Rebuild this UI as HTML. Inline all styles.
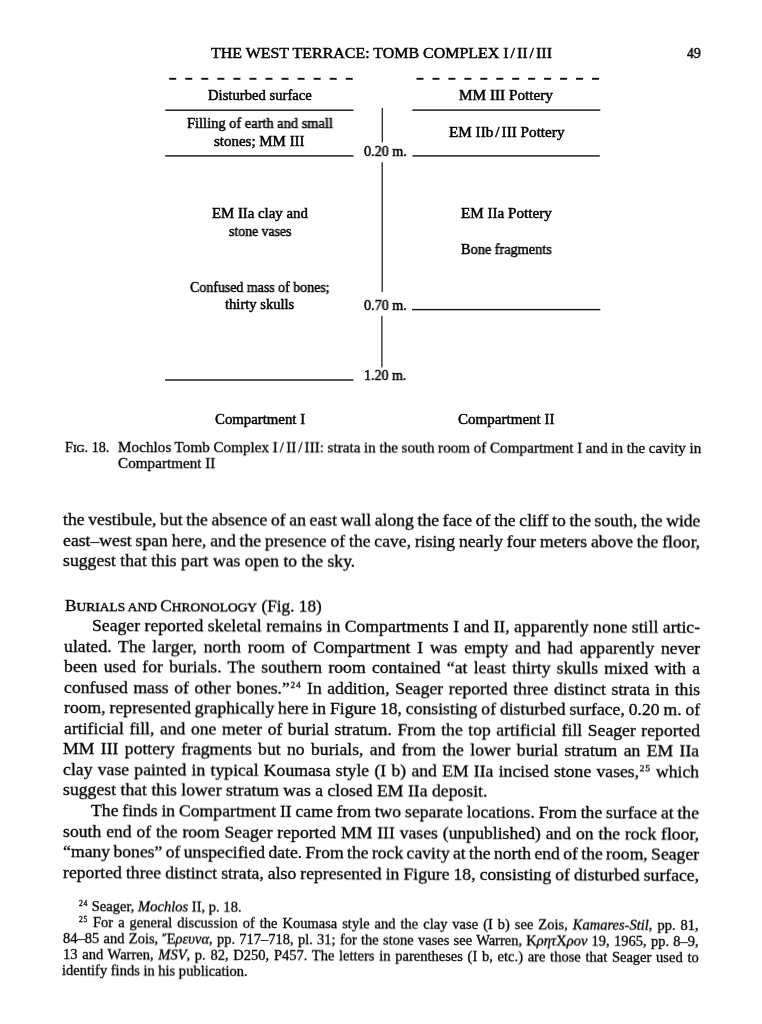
<!DOCTYPE html>
<html lang="en"><head><meta charset="utf-8"><title>The West Terrace: Tomb Complex I/II/III</title>
<style>
html,body{margin:0;padding:0;background:#fff}
body{width:762px;height:1024px;position:relative;overflow:hidden;font-family:'Liberation Serif', 'DejaVu Serif', serif;color:#000}
.l{position:absolute;white-space:pre;-webkit-text-stroke:0.4px #000;will-change:transform;line-height:20px;height:20px;transform-origin:0 0;font-kerning:normal}
.r{position:absolute}
.sc{font-size:0.78em;-webkit-text-stroke-width:0.42px}
.cap{-webkit-text-stroke-width:0.28px}
.bod{-webkit-text-stroke-width:0.3px}
.fn{-webkit-text-stroke-width:0.28px}
.hd{-webkit-text-stroke-width:0.48px}
.fg{-webkit-text-stroke-width:0.48px}
</style></head><body>
<svg class="r" width="762" height="1024" viewBox="0 0 762 1024" style="left:0;top:0">
<rect x="169.20" y="77.85" width="7.00" height="1.9" fill="#111"/>
<rect x="185.25" y="77.85" width="7.00" height="1.9" fill="#111"/>
<rect x="201.30" y="77.85" width="7.00" height="1.9" fill="#111"/>
<rect x="217.35" y="77.85" width="7.00" height="1.9" fill="#111"/>
<rect x="233.40" y="77.85" width="7.00" height="1.9" fill="#111"/>
<rect x="249.45" y="77.85" width="7.00" height="1.9" fill="#111"/>
<rect x="265.50" y="77.85" width="7.00" height="1.9" fill="#111"/>
<rect x="281.55" y="77.85" width="7.00" height="1.9" fill="#111"/>
<rect x="297.60" y="77.85" width="7.00" height="1.9" fill="#111"/>
<rect x="313.65" y="77.85" width="7.00" height="1.9" fill="#111"/>
<rect x="329.70" y="77.85" width="7.00" height="1.9" fill="#111"/>
<rect x="345.75" y="77.85" width="7.00" height="1.9" fill="#111"/>
<rect x="416.50" y="77.85" width="7.00" height="1.9" fill="#111"/>
<rect x="432.45" y="77.85" width="7.00" height="1.9" fill="#111"/>
<rect x="448.40" y="77.85" width="7.00" height="1.9" fill="#111"/>
<rect x="464.35" y="77.85" width="7.00" height="1.9" fill="#111"/>
<rect x="480.30" y="77.85" width="7.00" height="1.9" fill="#111"/>
<rect x="496.25" y="77.85" width="7.00" height="1.9" fill="#111"/>
<rect x="512.20" y="77.85" width="7.00" height="1.9" fill="#111"/>
<rect x="528.15" y="77.85" width="7.00" height="1.9" fill="#111"/>
<rect x="544.10" y="77.85" width="7.00" height="1.9" fill="#111"/>
<rect x="560.05" y="77.85" width="7.00" height="1.9" fill="#111"/>
<rect x="576.00" y="77.85" width="7.00" height="1.9" fill="#111"/>
<rect x="591.95" y="77.85" width="7.00" height="1.9" fill="#111"/>
<rect x="165.20" y="109.50" width="188.30" height="1.4" fill="#111"/>
<rect x="165.20" y="155.20" width="188.30" height="1.4" fill="#111"/>
<rect x="165.10" y="379.30" width="188.30" height="1.4" fill="#111"/>
<rect x="412.30" y="109.40" width="188.00" height="1.4" fill="#111"/>
<rect x="412.40" y="155.20" width="187.40" height="1.4" fill="#111"/>
<rect x="412.00" y="308.90" width="188.30" height="1.4" fill="#111"/>
<rect x="381.70" y="108.10" width="1.2" height="34.20" fill="#111"/>
<rect x="381.60" y="162.20" width="1.2" height="129.90" fill="#111"/>
<rect x="381.30" y="315.80" width="1.2" height="51.60" fill="#111"/>
</svg>
<div class="l hd" style="left:211.00px;top:43px;font-size:15.2px;transform:scaleX(1.0501);">THE WEST TERRACE: TOMB COMPLEX I<span style="padding:0 1.9px">/</span>II<span style="padding:0 1.9px">/</span>III</div>
<div class="l hd" style="left:686.90px;top:43px;font-size:15.2px;transform:scaleX(0.9086);">49</div>
<div class="l fg" style="left:207.80px;top:85px;font-size:14.5px;transform:scaleX(1.0110);">Disturbed surface</div>
<div class="l fg" style="left:186.70px;top:113px;font-size:14.5px;transform:scaleX(0.9959);">Filling of earth and small</div>
<div class="l fg" style="left:213.80px;top:131px;font-size:14.5px;transform:scaleX(1.0317);">stones; MM III</div>
<div class="l fg" style="left:211.90px;top:203px;font-size:14.5px;transform:scaleX(1.0212);">EM IIa clay and</div>
<div class="l fg" style="left:228.60px;top:221px;font-size:14.5px;transform:scaleX(0.9506);">stone vases</div>
<div class="l fg" style="left:190.00px;top:277px;font-size:14.5px;transform:scaleX(0.9602);">Confused mass of bones;</div>
<div class="l fg" style="left:224.80px;top:294px;font-size:14.5px;transform:scaleX(1.0059);">thirty skulls</div>
<div class="l fg" style="left:214.80px;top:409px;font-size:14.5px;transform:scaleX(1.0215);">Compartment I</div>
<div class="l fg" style="left:459.20px;top:85px;font-size:14.5px;transform:scaleX(1.0512);">MM III Pottery</div>
<div class="l fg" style="left:449.00px;top:122px;font-size:14.5px;transform:scaleX(1.0490);">EM IIb<span style="padding:0 1.9px">/</span>III Pottery</div>
<div class="l fg" style="left:460.70px;top:203px;font-size:14.5px;transform:scaleX(1.0439);">EM IIa Pottery</div>
<div class="l fg" style="left:461.40px;top:239px;font-size:14.5px;transform:scaleX(0.9846);">Bone fragments</div>
<div class="l fg" style="left:458.00px;top:409px;font-size:14.5px;transform:scaleX(1.0384);">Compartment II</div>
<div class="l fg" style="left:364.10px;top:141px;font-size:14.5px;transform:scaleX(0.9725);">0.20 m.</div>
<div class="l fg" style="left:364.00px;top:295px;font-size:14.5px;transform:scaleX(0.9725);">0.70 m.</div>
<div class="l fg" style="left:363.80px;top:365px;font-size:14.5px;transform:scaleX(0.9634);">1.20 m.</div>
<div class="l cap" style="left:64.70px;top:437.70px;font-size:14px;transform-origin:0 14px;transform:rotate(0.00180rad) scaleX(1.0134);">F<span class="sc">IG</span>. 18.</div>
<div class="l cap" style="left:117.50px;top:437.70px;font-size:14px;transform-origin:0 14px;transform:rotate(0.00180rad) scaleX(1.086);word-spacing:-0.218px;">Mochlos Tomb Complex I<span style="padding:0 1.9px">/</span>II<span style="padding:0 1.9px">/</span>III: strata in the south room of Compartment I and in the cavity in</div>
<div class="l cap" style="left:117.50px;top:453.50px;font-size:14px;transform-origin:0 14px;transform:rotate(0.00191rad) scaleX(1.0834);">Compartment II</div>
<div class="l bod" style="left:63.30px;top:510.20px;font-size:16.5px;transform-origin:0 15px;transform:rotate(0.00229rad) scaleX(1.07);word-spacing:-0.729px;">the vestibule, but the absence of an east wall along the face of the cliff to the south, the wide</div>
<div class="l bod" style="left:63.30px;top:530.70px;font-size:16.5px;transform-origin:0 15px;transform:rotate(0.00242rad) scaleX(1.07);word-spacing:-0.573px;">east–west span here, and the presence of the cave, rising nearly four meters above the floor,</div>
<div class="l bod" style="left:63.30px;top:550.90px;font-size:16.5px;transform-origin:0 15px;transform:rotate(0.00256rad) scaleX(1.0686);">suggest that this part was open to the sky.</div>
<div class="l bod" style="left:64.50px;top:595.70px;font-size:16.5px;transform-origin:0 15px;transform:rotate(0.00285rad) scaleX(1.0465);">B<span class="sc">URIALS AND </span>C<span class="sc">HRONOLOGY</span> (Fig. 18)</div>
<div class="l bod" style="left:92.10px;top:616.20px;font-size:16.5px;transform-origin:0 15px;transform:rotate(0.00299rad) scaleX(1.07);word-spacing:0.049px;">Seager reported skeletal remains in Compartments I and II, apparently none still artic-</div>
<div class="l bod" style="left:63.90px;top:636.73px;font-size:16.5px;transform-origin:0 15px;transform:rotate(0.00312rad) scaleX(1.07);word-spacing:2.232px;">ulated. The larger, north room of Compartment I was empty and had apparently never</div>
<div class="l bod" style="left:63.80px;top:657.26px;font-size:16.5px;transform-origin:0 15px;transform:rotate(0.00326rad) scaleX(1.07);word-spacing:1.738px;">been used for burials. The southern room contained “at least thirty skulls mixed with a</div>
<div class="l bod" style="left:63.71px;top:677.79px;font-size:16.5px;transform-origin:0 15px;transform:rotate(0.00339rad) scaleX(1.07);word-spacing:1.087px;">confused mass of other bones.”<span style="font-size:0.54em;position:relative;top:-0.64em;letter-spacing:0.7px;margin-left:0.5px">24</span> In addition, Seager reported three distinct strata in this</div>
<div class="l bod" style="left:63.61px;top:698.32px;font-size:16.5px;transform-origin:0 15px;transform:rotate(0.00353rad) scaleX(1.07);word-spacing:-0.514px;">room, represented graphically here in Figure 18, consisting of disturbed surface, 0.20 m. of</div>
<div class="l bod" style="left:63.52px;top:718.85px;font-size:16.5px;transform-origin:0 15px;transform:rotate(0.00366rad) scaleX(1.07);word-spacing:1.031px;">artificial fill, and one meter of burial stratum. From the top artificial fill Seager reported</div>
<div class="l bod" style="left:63.42px;top:739.38px;font-size:16.5px;transform-origin:0 15px;transform:rotate(0.00380rad) scaleX(1.07);word-spacing:1.813px;">MM III pottery fragments but no burials, and from the lower burial stratum an EM IIa</div>
<div class="l bod" style="left:63.33px;top:759.91px;font-size:16.5px;transform-origin:0 15px;transform:rotate(0.00393rad) scaleX(1.07);word-spacing:0.787px;">clay vase painted in typical Koumasa style (I b) and EM IIa incised stone vases,<span style="font-size:0.54em;position:relative;top:-0.64em;letter-spacing:0.7px;margin-left:0.5px">25</span> which</div>
<div class="l bod" style="left:63.24px;top:780.44px;font-size:16.5px;transform-origin:0 15px;transform:rotate(0.00407rad) scaleX(1.0706);">suggest that this lower stratum was a closed EM IIa deposit.</div>
<div class="l bod" style="left:91.25px;top:800.97px;font-size:16.5px;transform-origin:0 15px;transform:rotate(0.00421rad) scaleX(1.07);word-spacing:-0.555px;">The finds in Compartment II came from two separate locations. From the surface at the</div>
<div class="l bod" style="left:63.05px;top:821.50px;font-size:16.5px;transform-origin:0 15px;transform:rotate(0.00434rad) scaleX(1.07);word-spacing:0.388px;">south end of the room Seager reported MM III vases (unpublished) and on the rock floor,</div>
<div class="l bod" style="left:62.95px;top:842.03px;font-size:16.5px;transform-origin:0 15px;transform:rotate(0.00448rad) scaleX(1.07);word-spacing:-1.050px;">“many bones” of unspecified date. From the rock cavity at the north end of the room, Seager</div>
<div class="l bod" style="left:62.86px;top:862.56px;font-size:16.5px;transform-origin:0 15px;transform:rotate(0.00461rad) scaleX(1.07);word-spacing:-0.373px;">reported three distinct strata, also represented in Figure 18, consisting of disturbed surface,</div>
<div class="l fn" style="left:78.90px;top:897.30px;font-size:13.7px;transform-origin:0 14px;transform:rotate(0.00483rad) scaleX(1.0638);"><span style="font-size:0.53em;position:relative;top:-0.68em;letter-spacing:0.6px">24</span> Seager, <i>Mochlos</i> II, p. 18.</div>
<div class="l fn" style="left:78.90px;top:912.90px;font-size:13.7px;transform-origin:0 14px;transform:rotate(0.00494rad) scaleX(1.06);word-spacing:1.276px;"><span style="font-size:0.53em;position:relative;top:-0.68em;letter-spacing:0.6px">25</span> For a general discussion of the Koumasa style and the clay vase (I b) see Zois, <i>Kamares-Stil</i>, pp. 81,</div>
<div class="l fn" style="left:62.60px;top:928.80px;font-size:13.7px;transform-origin:0 14px;transform:rotate(0.00504rad) scaleX(1.06);word-spacing:0.592px;">84–85 and Zois, Ἔ<i>ρευνα</i>, pp. 717–718, pl. 31; for the stone vases see Warren, Κ<i>ρητ</i>Χ<i>ρον</i> 19, 1965, pp. 8–9,</div>
<div class="l fn" style="left:62.90px;top:944.60px;font-size:13.7px;transform-origin:0 14px;transform:rotate(0.00515rad) scaleX(1.06);word-spacing:1.026px;">13 and Warren, <i>MSV</i>, p. 82, D250, P457. The letters in parentheses (I b, etc.) are those that Seager used to</div>
<div class="l fn" style="left:62.30px;top:960.60px;font-size:13.7px;transform-origin:0 14px;transform:rotate(0.00525rad) scaleX(1.0595);">identify finds in his publication.</div>
</body></html>
